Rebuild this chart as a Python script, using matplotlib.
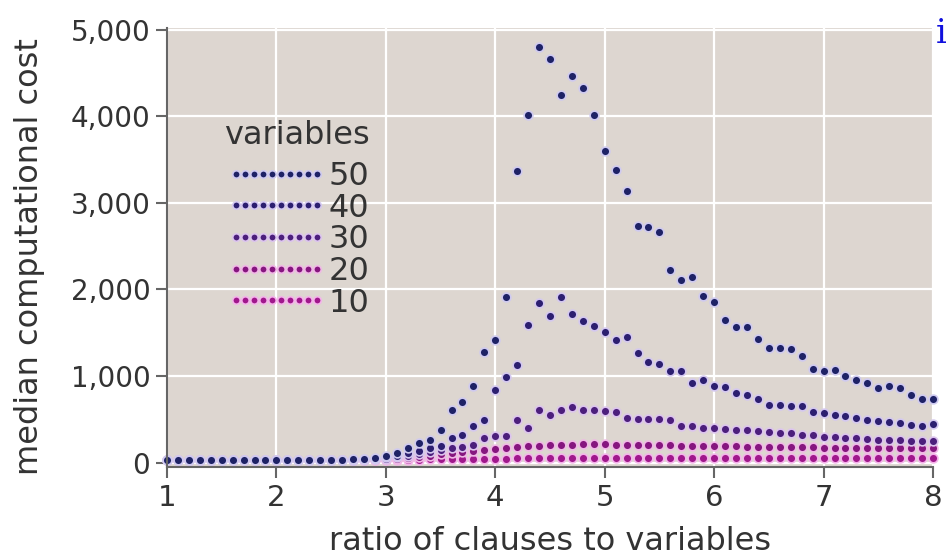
import numpy as np
import matplotlib
matplotlib.use("Agg")
import matplotlib.pyplot as plt

plt.rcParams['font.family'] = ['DejaVu Sans']

# ratio of clauses to variables, 1.0 .. 8.0 in steps of 0.1
ratio = np.round(np.arange(10, 81) / 10.0, 1)

low = [30] * 15  # ratios 1.0 .. 2.4, flat near zero

cost_50 = low + [35, 35, 40, 45, 55,
                 75, 112, 170, 227, 266, 381, 612, 697, 881, 1274,
                 1413, 1909, 3365, 4010, 4800, 4665, 4243, 4470, 4330, 4020,
                 3605, 3375, 3135, 2730, 2722, 2660, 2220, 2110, 2145, 1930,
                 1860, 1650, 1563, 1563, 1430, 1330, 1330, 1316, 1230, 1080,
                 1055, 1066, 997, 959, 920, 860, 881, 862, 785, 739,
                 739]
cost_40 = low + [30, 32, 35, 40, 45,
                 60, 80, 110, 140, 165, 189, 285, 323, 419, 497,
                 835, 985, 1132, 1594, 1844, 1690, 1909, 1721, 1640, 1574,
                 1510, 1413, 1452, 1267, 1159, 1143, 1055, 1055, 920, 959,
                 881, 874, 805, 785, 736, 670, 666, 658, 650, 581,
                 574, 554, 535, 516, 497, 477, 466, 458, 439, 419,
                 450]
cost_30 = low + [30, 30, 32, 35, 38,
                 45, 60, 80, 100, 120, 150, 165, 181, 208, 285,
                 312, 312, 497, 400, 612, 554, 604, 645, 612, 612,
                 593, 581, 516, 510, 510, 505, 497, 425, 420, 405,
                 400, 390, 381, 375, 360, 350, 345, 340, 323, 320,
                 300, 295, 290, 285, 275, 266, 262, 258, 255, 250,
                 246]
cost_20 = low + [30, 30, 30, 30, 32,
                 35, 45, 55, 65, 80, 95, 110, 120, 135, 150,
                 160, 170, 180, 190, 195, 200, 205, 205, 210, 210,
                 210, 205, 205, 205, 200, 200, 200, 195, 195, 195,
                 190, 190, 190, 185, 185, 185, 180, 180, 180, 180,
                 175, 175, 175, 175, 170, 170, 170, 170, 165, 165,
                 165]
cost_10 = low + [30, 30, 30, 30, 30,
                 30, 32, 34, 36, 38, 40, 42, 44, 45, 46,
                 48, 48, 50, 50, 50, 50, 50, 50, 50, 50,
                 50, 50, 50, 50, 50, 50, 50, 50, 50, 50,
                 50, 50, 50, 50, 50, 50, 50, 50, 50, 50,
                 50, 50, 50, 50, 50, 50, 50, 50, 50, 50,
                 50]

series_labels = ['50', '40', '30', '20', '10']
series_values = [cost_50, cost_40, cost_30, cost_20, cost_10]
series_colors = ['#1e2266', '#2c1f70', '#4c1f7c', '#86167f', '#a0188c']
halo_colors = ['#cfcaf0', '#d4c8f0', '#dcc4ee', '#f0b8e6', '#f4b4ea']

y_ticks = [0, 1000, 2000, 3000, 4000, 5000]
y_tick_labels = ['0', '1,000', '2,000', '3,000', '4,000', '5,000']
x_ticks = [1, 2, 3, 4, 5, 6, 7, 8]

TEXT_COLOR = '#333333'

fig = plt.figure(figsize=(9.47, 5.6), dpi=100)
ax = fig.add_axes([167 / 947, 1 - 467 / 560, (933 - 167) / 947, (467 - 28) / 560])
ax.set_facecolor('#ddd6d0')

# draw smallest problems first so the 50-variable series sits on top
for label, values, color, halo in reversed(list(zip(series_labels, series_values,
                                                    series_colors, halo_colors))):
    ax.plot(ratio, values, ls='none', marker='o', ms=6.3, color=color,
            mec=halo, mew=1.2, label=label, clip_on=False)

ax.set_xlim(1, 8)
ax.set_ylim(-50, 5020)
ax.set_xticks(x_ticks)
ax.set_xticklabels([str(t) for t in x_ticks], fontsize=21, color=TEXT_COLOR)
ax.set_yticks(y_ticks)
ax.set_yticklabels(y_tick_labels, fontsize=20, color=TEXT_COLOR)
ax.tick_params(direction='out', length=8, width=1.5, color='#666666', pad=4)
ax.grid(True, color='white', lw=1.6)
ax.set_axisbelow(True)
for side in ['top', 'right']:
    ax.spines[side].set_visible(False)
for side in ['left', 'bottom']:
    ax.spines[side].set_color('#666666')
    ax.spines[side].set_linewidth(1.5)

ax.set_xlabel('ratio of clauses to variables', fontsize=23, color=TEXT_COLOR, labelpad=10)
ax.set_ylabel('median computational cost', fontsize=23, color=TEXT_COLOR)
ax.yaxis.set_label_coords(-0.159, 0.48)

handles, labels = ax.get_legend_handles_labels()
leg = fig.legend(handles[::-1], labels[::-1], loc='upper left',
                 bbox_to_anchor=(226 / 947, 1 - 161 / 560), frameon=False, numpoints=10,
                 handlelength=3.15, handletextpad=0.05, labelspacing=0.02,
                 fontsize=23, borderpad=0, borderaxespad=0, markerscale=0.85)
for t in leg.get_texts():
    t.set_color(TEXT_COLOR)
fig.text(224 / 947, 1 - 135 / 560, 'variables', fontsize=23, color=TEXT_COLOR,
         ha='left', va='center')

fig.text(936 / 947, 1 - 43 / 560, 'i', color='#1010dd', fontsize=24,
         family='DejaVu Serif', va='baseline')

fig.savefig('out.png', dpi=100)
